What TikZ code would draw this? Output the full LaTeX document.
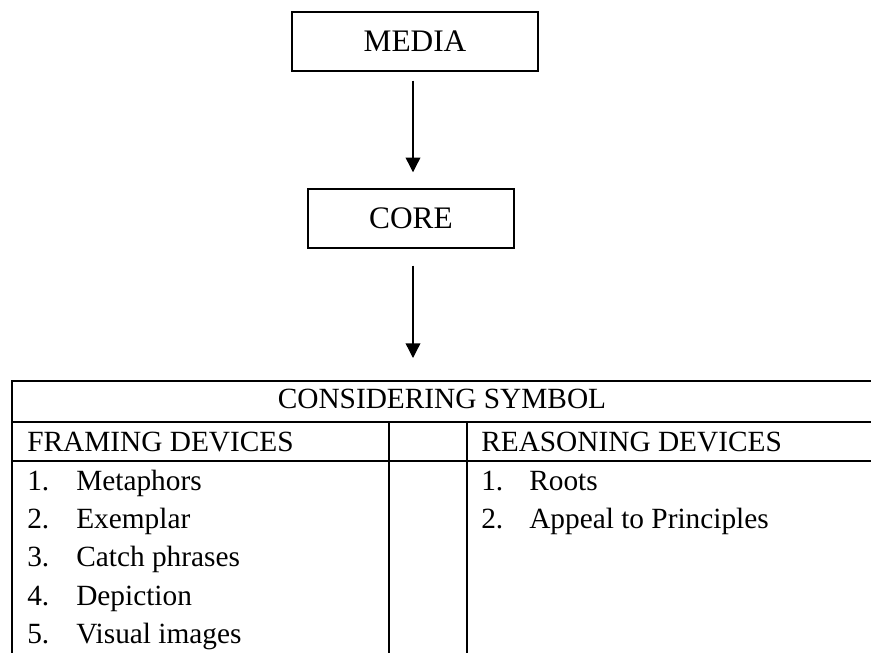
\documentclass[tikz,border=0pt]{standalone}
\usepackage{fontspec}
\setmainfont{Liberation Serif}
\usetikzlibrary{arrows.meta,calc}
\tikzset{
  boxnode/.style={draw, line width=1.1pt, inner sep=0pt, font=\fontsize{23.5}{28}\selectfont, text height=15.5pt, text depth=0pt},
  arr/.style={line width=1pt, -{Triangle[width=11pt,length=11pt]}},
  tline/.style={line width=1.1pt},
  ttext/.style={inner sep=0pt, font=\fontsize{22}{26}\selectfont, anchor=base west},
}
\begin{document}
\begin{tikzpicture}[x=0.75pt,y=-0.75pt]
\useasboundingbox (0,0) rectangle (871,653);
\clip (0,0) rectangle (871,653);
% boxes
\node[boxnode, minimum width=184.5pt, minimum height=44.25pt] (media) at (415,41.5) {MEDIA};
\node[boxnode, minimum width=154.5pt, minimum height=44.25pt] (core) at (411,218.5) {CORE};
\coordinate (tabletop) at (413,381);
% arrows
\draw[arr] ($(media.south)+(-2,9)$) -- ($(core.north)+(2,-16)$);
\draw[arr] ($(core.south)+(2,17)$) -- ($(tabletop)+(0,-23)$);
% table lines
\draw[tline] (12,700) -- (12,381) -- (875,381) -- (875,700);
\draw[tline] (12,422) -- (875,422);
\draw[tline] (12,461) -- (875,461);
\draw[tline] (389,422) -- (389,700);
\draw[tline] (467,422) -- (467,700);
% table texts
\node[ttext, anchor=base] (cons) at (442,408) {CONSIDERING SYMBOL};
\node[ttext] (frame) at (27,451) {FRAMING DEVICES};
\node[ttext] (reason) at (481,451) {REASONING DEVICES};
\node[ttext] (n1) at (27,490) {1.};
\node[ttext] (f1) at (76,490) {Metaphors};
\node[ttext] (n2) at (27,528.3) {2.};
\node[ttext] (f2) at (76,528.3) {Exemplar};
\node[ttext] (n3) at (27,566.6) {3.};
\node[ttext] (f3) at (76,566.6) {Catch phrases};
\node[ttext] (n4) at (27,605) {4.};
\node[ttext] (f4) at (76,605) {Depiction};
\node[ttext] (n5) at (27,643.3) {5.};
\node[ttext] (f5) at (76,643.3) {Visual images};
\node[ttext] (r1n) at (481,490) {1.};
\node[ttext] (r1) at (529,490) {Roots};
\node[ttext] (r2n) at (481,528.3) {2.};
\node[ttext] (r2) at (529,528.3) {Appeal to Principles};
\end{tikzpicture}
\end{document}
